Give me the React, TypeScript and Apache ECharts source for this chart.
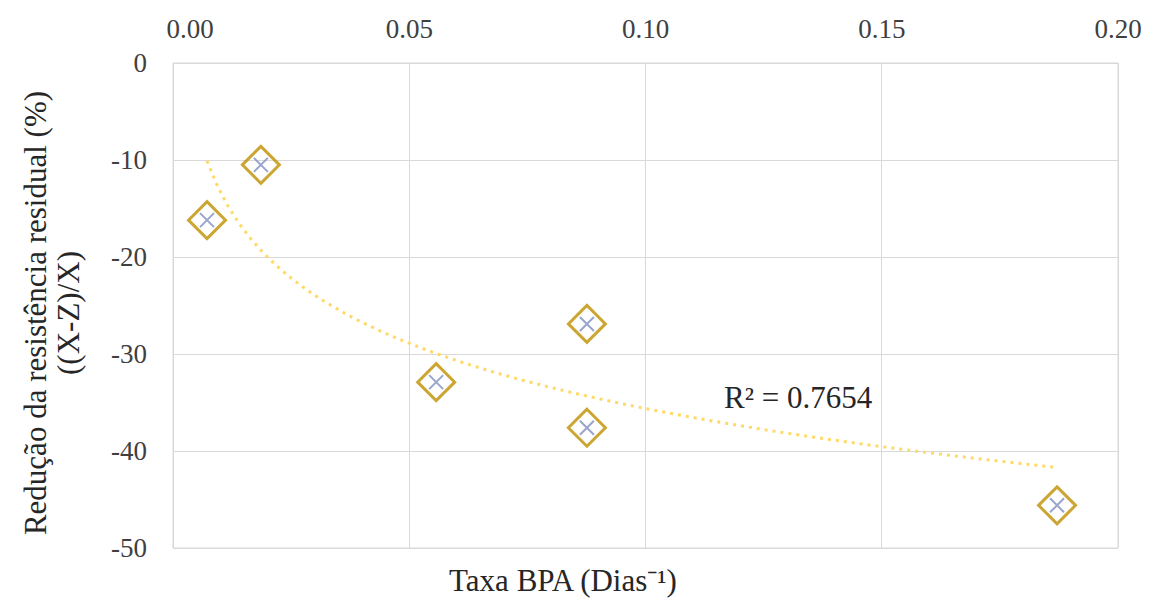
import React, { useEffect, useRef } from "react";
import * as echarts from "echarts";

const taxaBPA = [0.0072, 0.0186, 0.0557, 0.0876, 0.0876, 0.1871];
const reducao = [-16.2, -10.5, -32.9, -26.9, -37.6, -45.6];
const xTicks = [0, 0.05, 0.1, 0.15, 0.2];
const yTicks = [0, -10, -20, -30, -40, -50];
const r2Label = "R² = 0.7654";
const xName = "Taxa BPA (Dias⁻¹)";
const yName = "Redução da resistência residual (%)\n((X-Z)/X)";

function logFit(xs: number[], ys: number[]) {
  const L = xs.map((x) => Math.log(x));
  const n = L.length;
  const mL = L.reduce((a, b) => a + b, 0) / n;
  const mY = ys.reduce((a, b) => a + b, 0) / n;
  let sxy = 0, sxx = 0;
  for (let i = 0; i < n; i++) {
    sxy += (L[i] - mL) * (ys[i] - mY);
    sxx += (L[i] - mL) * (L[i] - mL);
  }
  const a = sxy / sxx;
  const b = mY - a * mL;
  return { a, b };
}

export default function App() {
  const ref = useRef<HTMLDivElement>(null);
  useEffect(() => {
    if (!ref.current) return;
    const chart = echarts.init(ref.current, null, { renderer: "svg" });
    const { a, b } = logFit(taxaBPA, reducao);
    const xmin = Math.min(...taxaBPA);
    const xmax = Math.max(...taxaBPA);
    const trend: number[][] = [];
    const steps = 80;
    for (let i = 0; i <= steps; i++) {
      const x = xmin + ((xmax - xmin) * i) / steps;
      trend.push([x, a * Math.log(x) + b]);
    }
    const pts = taxaBPA.map((x, i) => [x, reducao[i]]);
    const font = "Liberation Serif";
    chart.setOption({
      animation: false,
      backgroundColor: "#ffffff",
      grid: {
        left: 173,
        right: 38,
        top: 63,
        bottom: 52,
        show: true,
        borderColor: "#d9d9d9",
        borderWidth: 1,
      },
      xAxis: {
        type: "value",
        position: "top",
        min: xTicks[0],
        max: xTicks[xTicks.length - 1],
        interval: 0.05,
        axisLine: { show: false },
        axisTick: { show: false },
        splitLine: { show: true, lineStyle: { color: "#d9d9d9", width: 1 } },
        axisLabel: {
          margin: 21,
          fontFamily: font,
          fontSize: 27,
          color: "#404040",
          formatter: (v: number) => (v === 0 ? "{first|0.00}" : v.toFixed(2)),
          rich: {
            first: { fontFamily: font, fontSize: 27, color: "#404040", padding: [0, 0, 0, 34] },
          },
        },
      },
      yAxis: {
        type: "value",
        min: yTicks[yTicks.length - 1],
        max: yTicks[0],
        interval: 10,
        axisLine: { show: false },
        axisTick: { show: false },
        splitLine: { show: true, lineStyle: { color: "#d9d9d9", width: 1 } },
        axisLabel: {
          margin: 26,
          fontFamily: font,
          fontSize: 27,
          color: "#404040",
        },
      },
      series: [
        {
          type: "line",
          data: trend,
          showSymbol: false,
          smooth: false,
          lineStyle: { color: "#FFD966", width: 3, type: [3, 5] },
          z: 1,
        },
        {
          type: "scatter",
          data: pts,
          symbol: "diamond",
          symbolSize: 37,
          itemStyle: { color: "rgba(255,255,255,0)", borderColor: "#BF9000", borderWidth: 3 },
          z: 2,
        },
        {
          type: "scatter",
          data: pts,
          symbol: "path://M0,0L10,10M10,0L0,10",
          symbolSize: 14,
          itemStyle: { color: "none", borderColor: "#7F8FC0", borderWidth: 2 },
          z: 3,
        },
      ],
      graphic: [
        {
          type: "text",
          x: 52,
          y: 313,
          rotation: Math.PI / 2,
          style: {
            text: yName,
            fontFamily: font,
            fontSize: 31,
            fill: "#262626",
            align: "center",
            verticalAlign: "middle",
            lineHeight: 33,
          },
        },
        {
          type: "text",
          x: 563,
          y: 580,
          style: {
            text: xName,
            fontFamily: font,
            fontSize: 31,
            fill: "#262626",
            align: "center",
            verticalAlign: "middle",
          },
        },
        {
          type: "text",
          x: 724,
          y: 397,
          style: {
            text: r2Label,
            fontFamily: font,
            fontSize: 31,
            fill: "#262626",
            align: "left",
            verticalAlign: "middle",
          },
        },
      ],
    });
    return () => chart.dispose();
  }, []);
  return (
    <div
      ref={ref}
      style={{ position: "fixed", left: 0, top: 0, width: 1156, height: 600, background: "#fff" }}
    />
  );
}
